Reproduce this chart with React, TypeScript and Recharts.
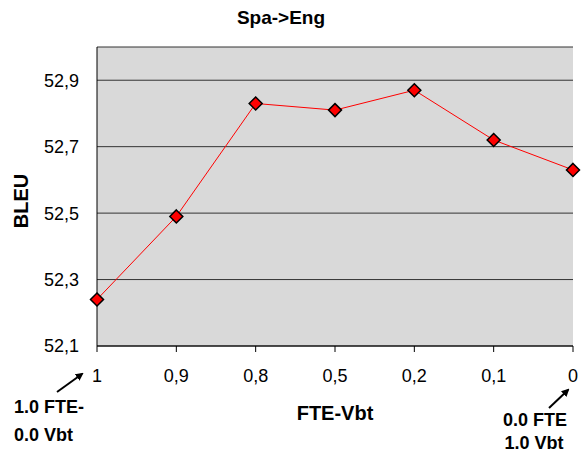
import React from "react";
import { LineChart, Line, XAxis, YAxis, CartesianGrid } from "recharts";

const categories = ["1", "0,9", "0,8", "0,5", "0,2", "0,1", "0"];
const bleuValues = [52.24, 52.49, 52.83, 52.81, 52.87, 52.72, 52.63];
const yTicks = [52.1, 52.3, 52.5, 52.7, 52.9];

const data = categories.map((c, i) => ({ name: c, bleu: bleuValues[i] }));

const FONT = "'Liberation Sans', Arial, sans-serif";

const Diamond = (props: any) => {
  const { cx, cy } = props;
  if (cx == null || cy == null) return null;
  const r = 6.5;
  return (
    <polygon
      points={`${cx},${cy - r} ${cx + r},${cy} ${cx},${cy + r} ${cx - r},${cy}`}
      fill="#FF0000"
      stroke="#000"
      strokeWidth={1.5}
    />
  );
};

export default function App() {
  return (
    <div style={{ position: "absolute", left: 0, top: 0, width: 583, height: 454, background: "#fff", fontFamily: FONT }}>
      <LineChart
        width={583}
        height={454}
        data={data}
        margin={{ top: 47, right: 10, bottom: 0, left: 0 }}
      >
        <CartesianGrid
          horizontal={true}
          vertical={false}
          fill="#D9D9D9"
          stroke="#333"
          strokeWidth={1}
          strokeOpacity={1}
        />
        <XAxis
          dataKey="name"
          height={108}
          stroke="#000"
          tickSize={6}
          tickMargin={17}
          tick={{ fill: "#000", fontSize: 18, fontFamily: FONT }}
          interval={0}
        />
        <YAxis
          width={97}
          domain={[52.1, 53.0]}
          ticks={yTicks}
          stroke="#000"
          tickLine={false}
          tickSize={0}
          tickMargin={18}
          tick={{ fill: "#000", fontSize: 18, fontFamily: FONT }}
          tickFormatter={(v: number) => v.toFixed(1).replace(".", ",")}
          allowDataOverflow={true}
        />
        <Line
          type="linear"
          dataKey="bleu"
          stroke="#FF0000"
          strokeWidth={1}
          dot={<Diamond />}
          activeDot={false}
          isAnimationActive={false}
        />
      </LineChart>
      <svg
        width={583}
        height={454}
        style={{ position: "absolute", left: 0, top: 0, pointerEvents: "none" }}
      >
        <defs>
          <marker id="ah" markerWidth="8" markerHeight="8" refX="6" refY="4" orient="auto" markerUnits="userSpaceOnUse">
            <path d="M0,0 L8,4 L0,8 z" fill="#000" />
          </marker>
        </defs>
        <text x={281} y={24} textAnchor="middle" fontFamily={FONT} fontWeight="bold" fontSize={19} fill="#000">
          Spa-&gt;Eng
        </text>
        <text
          x={28}
          y={201}
          textAnchor="middle"
          fontFamily={FONT}
          fontWeight="bold"
          fontSize={20}
          fill="#000"
          transform="rotate(-90 28 201)"
        >
          BLEU
        </text>
        <text x={335} y={420} textAnchor="middle" fontFamily={FONT} fontWeight="bold" fontSize={20} fill="#000">
          FTE-Vbt
        </text>
        <text x={14} y={413} fontFamily={FONT} fontWeight="bold" fontSize={18} fill="#000">
          1.0 FTE-
        </text>
        <text x={14} y={441} fontFamily={FONT} fontWeight="bold" fontSize={18} fill="#000">
          0.0 Vbt
        </text>
        <text x={535} y={426} textAnchor="middle" fontFamily={FONT} fontWeight="bold" fontSize={18} fill="#000">
          0.0 FTE
        </text>
        <text x={534} y={449} textAnchor="middle" fontFamily={FONT} fontWeight="bold" fontSize={18} fill="#000">
          1.0 Vbt
        </text>
        <line x1={57} y1={392} x2={82} y2={374} stroke="#000" strokeWidth={2} markerEnd="url(#ah)" />
        <line x1={549} y1={408} x2={568} y2={390} stroke="#000" strokeWidth={2} markerEnd="url(#ah)" />
      </svg>
    </div>
  );
}
